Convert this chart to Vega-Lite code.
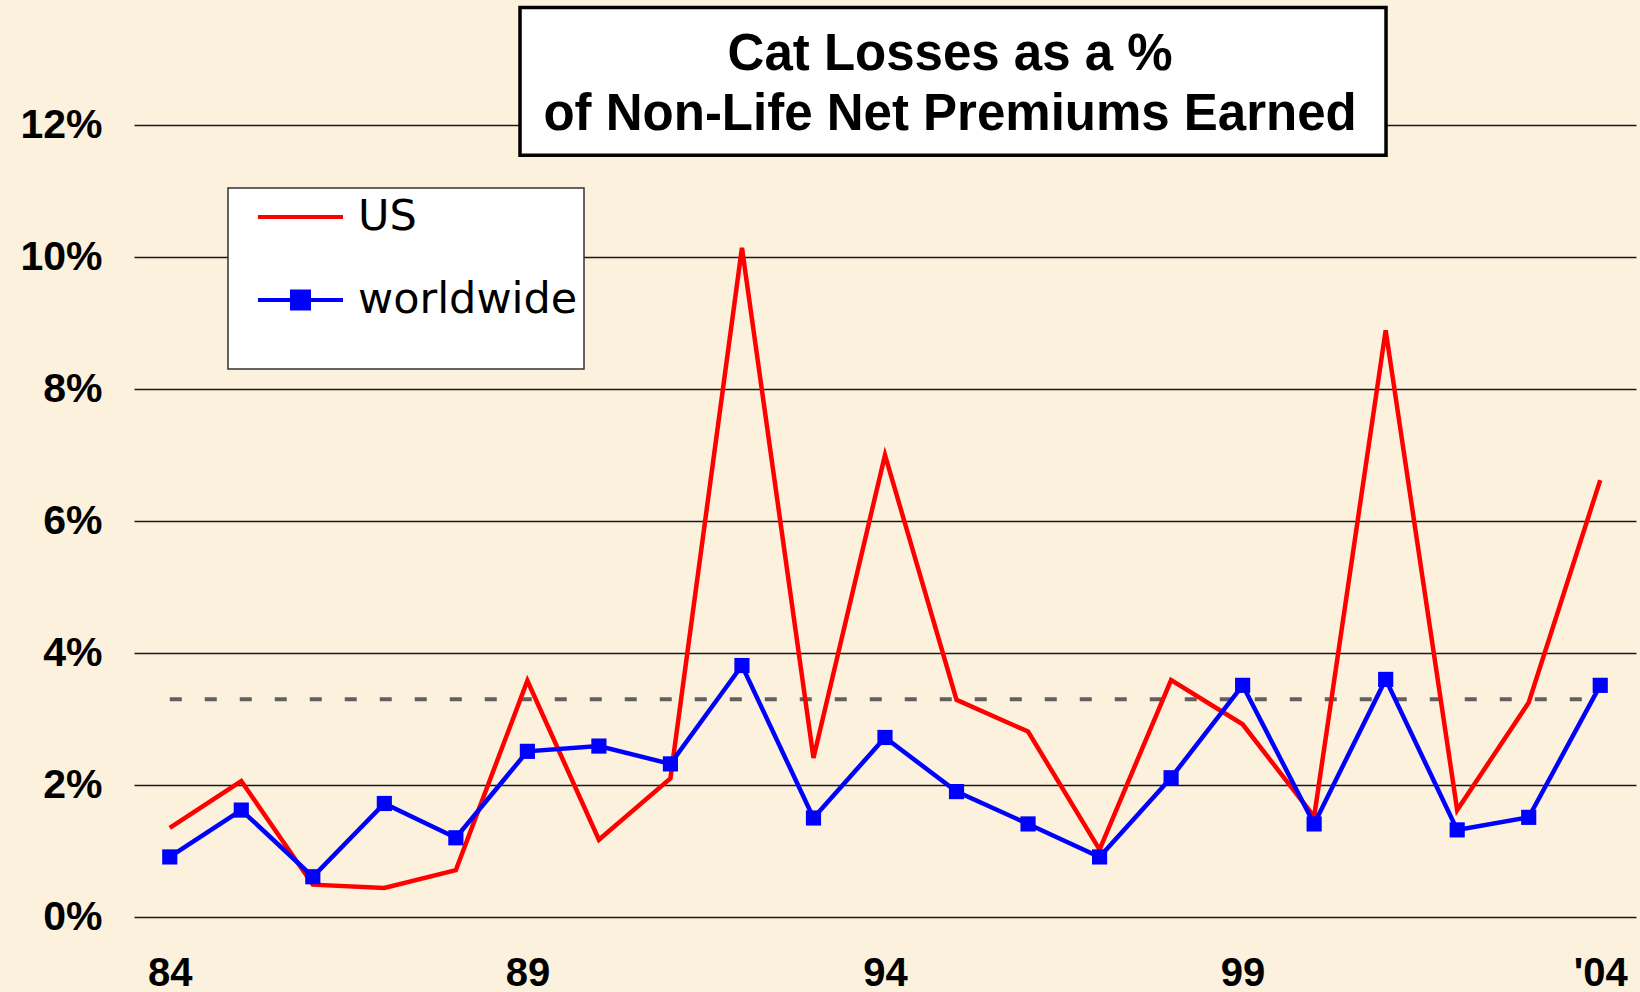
{
  "$schema": "https://vega.github.io/schema/vega-lite/v6.json",
  "width": 1502,
  "height": 792,
  "autosize": {"type": "none"},
  "padding": {"left": 134, "top": 125, "right": 4, "bottom": 75},
  "background": "#FBF1DC",
  "config": {"view": {"stroke": null}, "font": "Liberation Sans"},
  "data": {
    "values": [
      {"year": 1984, "series": "US", "value": 0.0135},
      {"year": 1985, "series": "US", "value": 0.0206},
      {"year": 1986, "series": "US", "value": 0.0049},
      {"year": 1987, "series": "US", "value": 0.0044},
      {"year": 1988, "series": "US", "value": 0.0071},
      {"year": 1989, "series": "US", "value": 0.0358},
      {"year": 1990, "series": "US", "value": 0.0117},
      {"year": 1991, "series": "US", "value": 0.021},
      {"year": 1992, "series": "US", "value": 0.1014},
      {"year": 1993, "series": "US", "value": 0.0241},
      {"year": 1994, "series": "US", "value": 0.07},
      {"year": 1995, "series": "US", "value": 0.0329},
      {"year": 1996, "series": "US", "value": 0.0281},
      {"year": 1997, "series": "US", "value": 0.0102},
      {"year": 1998, "series": "US", "value": 0.0359},
      {"year": 1999, "series": "US", "value": 0.0292},
      {"year": 2000, "series": "US", "value": 0.0152},
      {"year": 2001, "series": "US", "value": 0.0889},
      {"year": 2002, "series": "US", "value": 0.0162},
      {"year": 2003, "series": "US", "value": 0.0325},
      {"year": 2004, "series": "US", "value": 0.0662},
      {"year": 1984, "series": "worldwide", "value": 0.0091},
      {"year": 1985, "series": "worldwide", "value": 0.0162},
      {"year": 1986, "series": "worldwide", "value": 0.0061},
      {"year": 1987, "series": "worldwide", "value": 0.0172},
      {"year": 1988, "series": "worldwide", "value": 0.012},
      {"year": 1989, "series": "worldwide", "value": 0.0251},
      {"year": 1990, "series": "worldwide", "value": 0.0259},
      {"year": 1991, "series": "worldwide", "value": 0.0232},
      {"year": 1992, "series": "worldwide", "value": 0.0381},
      {"year": 1993, "series": "worldwide", "value": 0.015},
      {"year": 1994, "series": "worldwide", "value": 0.0272},
      {"year": 1995, "series": "worldwide", "value": 0.019},
      {"year": 1996, "series": "worldwide", "value": 0.0141},
      {"year": 1997, "series": "worldwide", "value": 0.0091},
      {"year": 1998, "series": "worldwide", "value": 0.0211},
      {"year": 1999, "series": "worldwide", "value": 0.0351},
      {"year": 2000, "series": "worldwide", "value": 0.0141},
      {"year": 2001, "series": "worldwide", "value": 0.036},
      {"year": 2002, "series": "worldwide", "value": 0.0132},
      {"year": 2003, "series": "worldwide", "value": 0.0151},
      {"year": 2004, "series": "worldwide", "value": 0.0351}
    ]
  },
  "layer": [
    {
      "data": {"values": [{}]},
      "mark": {"type": "rule", "color": "#606060", "strokeWidth": 4, "strokeDash": [12, 23]},
      "encoding": {
        "x": {"datum": 1984, "type": "quantitative"},
        "x2": {"datum": 2004},
        "y": {"datum": 0.033, "type": "quantitative"}
      }
    },
    {
      "mark": {"type": "line", "strokeWidth": 4.5},
      "encoding": {
        "x": {
          "field": "year", "type": "quantitative",
          "scale": {"domain": [1983.5, 2004.5], "nice": false, "zero": false},
          "axis": {
            "values": [1984, 1989, 1994, 1999, 2004],
            "labelExpr": "datum.value == 2004 ? \"'04\" : substring(toString(datum.value), 2)",
            "grid": false, "ticks": false, "domain": false, "title": null,
            "labelFontSize": 40, "labelFontWeight": "bold", "labelColor": "black",
            "labelFont": "Liberation Sans", "labelPadding": 36, "labelFlush": false
          }
        },
        "y": {
          "field": "value", "type": "quantitative",
          "scale": {"domain": [0, 0.12], "nice": false},
          "axis": {
            "values": [0, 0.02, 0.04, 0.06, 0.08, 0.1, 0.12],
            "format": ".0%", "grid": true, "gridColor": "#1a1a1a", "gridWidth": 1.5,
            "ticks": false, "domain": false, "title": null,
            "labelFontSize": 41, "labelFontWeight": "bold", "labelColor": "black",
            "labelFont": "Liberation Sans", "labelPadding": 32
          }
        },
        "color": {
          "field": "series", "type": "nominal",
          "scale": {"domain": ["US", "worldwide"], "range": ["#FF0000", "#0000FF"]},
          "legend": {
            "orient": "none", "legendX": 94, "legendY": 63,
            "title": "\u00a0\u00a0\u00a0\u00a0\u00a0\u00a0\u00a0\u00a0\u00a0\u00a0\u00a0\u00a0\u00a0\u00a0\u00a0\u00a0\u00a0\u00a0\u00a0\u00a0\u00a0\u00a0\u00a0\u00a0\u00a0\u00a0\u00a0\u00a0\u00a0\u00a0\u00a0\u00a0\u00a0\u00a0\u00a0\u00a0\u00a0\u00a0\u00a0\u00a0\u00a0\u00a0\u00a0",
            "titleOrient": "bottom", "titleFontSize": 30, "titlePadding": 10, "titleLimit": 1000,
            "fillColor": "white", "strokeColor": "#333333", "padding": 6,
            "labelFontSize": 43, "labelFont": "DejaVu Sans", "labelColor": "black", "labelLimit": 600,
            "labelOffset": 13, "symbolOffset": 22, "symbolSize": 7225, "symbolStrokeWidth": 4,
            "clipHeight": 46, "rowPadding": 37,
            "encode": {
              "legend": {"update": {"strokeWidth": {"value": 1.5}}},
              "symbols": {
                "update": {
                  "shape": {"signal": "datum.value === 'US' ? 'M-1,0H1' : 'M-1,0H1M-0.2,-0.2H0.2V0.2H-0.2Z'"},
                  "fill": {"signal": "datum.value === 'US' ? 'transparent' : '#0000FF'"},
                  "stroke": {"signal": "datum.value === 'US' ? '#FF0000' : '#0000FF'"},
                  "strokeWidth": {"value": 4},
                  "opacity": {"value": 1}
                }
              }
            }
          }
        }
      }
    },
    {
      "transform": [{"filter": "datum.series === 'worldwide'"}],
      "mark": {"type": "point", "shape": "square", "filled": true, "size": 230, "opacity": 1},
      "encoding": {
        "x": {"field": "year", "type": "quantitative"},
        "y": {"field": "value", "type": "quantitative"},
        "color": {
          "field": "series", "type": "nominal",
          "scale": {"domain": ["US", "worldwide"], "range": ["#FF0000", "#0000FF"]},
          "legend": {
            "orient": "none", "legendX": 94, "legendY": 63,
            "title": "\u00a0\u00a0\u00a0\u00a0\u00a0\u00a0\u00a0\u00a0\u00a0\u00a0\u00a0\u00a0\u00a0\u00a0\u00a0\u00a0\u00a0\u00a0\u00a0\u00a0\u00a0\u00a0\u00a0\u00a0\u00a0\u00a0\u00a0\u00a0\u00a0\u00a0\u00a0\u00a0\u00a0\u00a0\u00a0\u00a0\u00a0\u00a0\u00a0\u00a0\u00a0\u00a0\u00a0",
            "titleOrient": "bottom", "titleFontSize": 30, "titlePadding": 10, "titleLimit": 1000,
            "fillColor": "white", "strokeColor": "#333333", "padding": 6,
            "labelFontSize": 43, "labelFont": "DejaVu Sans", "labelColor": "black", "labelLimit": 600,
            "labelOffset": 13, "symbolOffset": 22, "symbolSize": 7225, "symbolStrokeWidth": 4,
            "clipHeight": 46, "rowPadding": 37
          }
        }
      }
    },
    {
      "data": {"values": [{}]},
      "mark": {"type": "rect", "fill": "white", "stroke": "black", "strokeWidth": 3.5},
      "encoding": {
        "x": {"datum": 1988.897, "type": "quantitative"},
        "x2": {"datum": 2001.005},
        "y": {"datum": 0.1378, "type": "quantitative"},
        "y2": {"datum": 0.1154}
      }
    },
    {
      "data": {"values": [{}]},
      "mark": {
        "type": "text",
        "text": ["Cat Losses as a %", "of Non-Life Net Premiums Earned"],
        "font": "Liberation Sans", "fontSize": 51, "fontWeight": "bold",
        "lineHeight": 60, "align": "center", "baseline": "alphabetic", "color": "black"
      },
      "encoding": {
        "x": {"datum": 1994.91, "type": "quantitative"},
        "y": {"datum": 0.1283, "type": "quantitative"}
      }
    }
  ]
}
